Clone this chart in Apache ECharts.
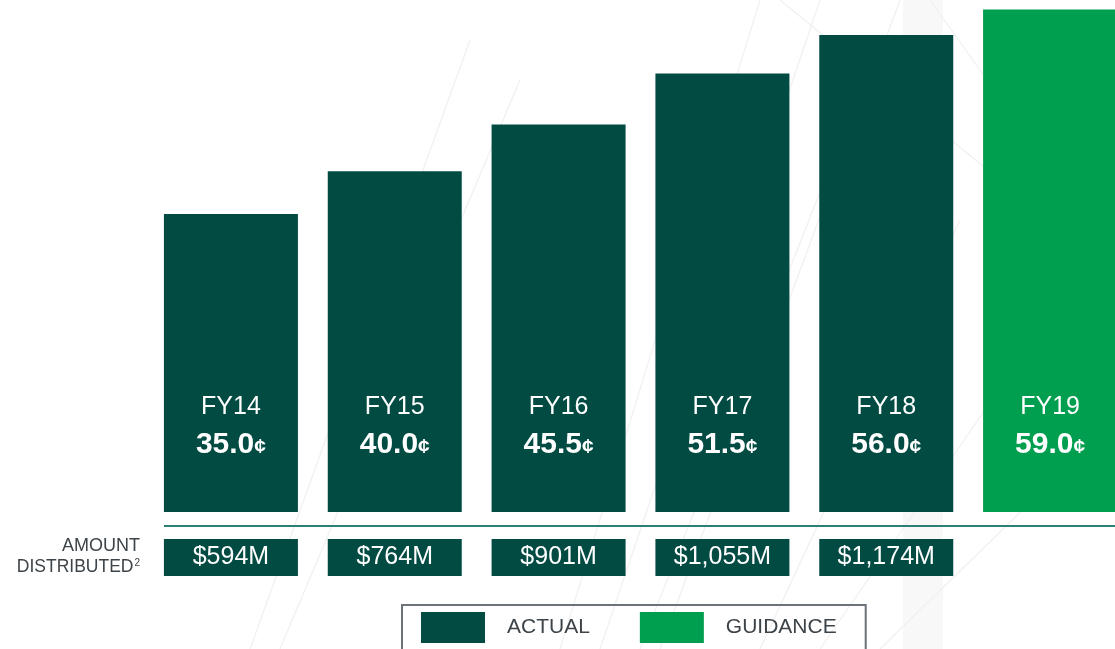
<!DOCTYPE html>
<html>
<head>
<meta charset="utf-8">
<script src="https://cdn.jsdelivr.net/npm/echarts@6/dist/echarts.min.js"></script>
<style>
  html, body { margin: 0; padding: 0; background: #fff; }
  #chart { width: 1115px; height: 649px; }
</style>
</head>
<body>
<div id="chart"></div>
<script>
// distribution per unit, cents
var years = ["FY14", "FY15", "FY16", "FY17", "FY18", "FY19"];
var actual = [35.0, 40.0, 45.5, 51.5, 56.0, "-"];
var guidance = ["-", "-", "-", "-", "-", 59.0];
var amounts = ["$594M", "$764M", "$901M", "$1,055M", "$1,174M", ""];

var dark = "#024b43";
var green = "#009e4f";
var font = "Liberation Sans, Arial, sans-serif";

var chart = echarts.init(document.getElementById("chart"));

// faint bridge cables in the background
var cables = [
  [250, 649, 470, 40], [280, 649, 520, 80], [560, 649, 760, 0], [600, 649, 820, 0],
  [640, 649, 880, 40], [760, 649, 960, 220], [820, 649, 1040, 330], [880, 649, 1115, 420],
  [930, 0, 1115, 260], [780, 0, 1000, 180], [660, 649, 900, 0]
];
var bg = cables.map(function (c) {
  return {
    type: "line", z: -10, silent: true,
    shape: { x1: c[0], y1: c[1], x2: c[2], y2: c[3] },
    style: { stroke: "#f0f0f0", lineWidth: 1.2 }
  };
});
bg.push({
  type: "rect", z: -11, silent: true,
  shape: { x: 903, y: 0, width: 40, height: 649 },
  style: { fill: "#f8f8f8" }
});

var labelRich = {
  fy: { color: "#fff", fontSize: 25, fontFamily: font, lineHeight: 36, align: "center" },
  v: { color: "#fff", fontSize: 30, fontWeight: "bold", fontFamily: font, lineHeight: 40 },
  c: { color: "#fff", fontSize: 21, fontWeight: "bold", fontFamily: font, lineHeight: 40, padding: [4, 0, 0, 0] }
};
function barLabel(p) {
  return "{fy|" + p.name + "}\n{v|" + Number(p.value).toFixed(1) + "}{c|¢}";
}

var option = {
  backgroundColor: "#fff",
  animation: false,
  grid: { left: 149, width: 983, top: 1, bottom: 137, outerBoundsMode: "none", containLabel: false },
  xAxis: {
    type: "category",
    data: years,
    axisLine: { show: false },
    axisTick: { show: false },
    axisLabel: {
      margin: 27,
      interval: 0,
      formatter: function (v, i) {
        return amounts[i] ? "{box|" + amounts[i] + "}" : "";
      },
      rich: {
        box: {
          backgroundColor: dark, color: "#fff", fontSize: 25, fontFamily: font,
          width: 134, height: 37, lineHeight: 37, align: "center"
        }
      }
    }
  },
  yAxis: {
    type: "value", min: 0, max: 60,
    show: false, splitLine: { show: false }
  },
  legend: {
    left: 402, top: 605,
    padding: [7, 29, 30, 19],
    borderColor: "#6b7279", borderWidth: 2,
    itemWidth: 64, itemHeight: 31, itemGap: 50,
    icon: "rect",
    textStyle: { color: "#3d4449", fontSize: 21, fontFamily: font, padding: [0, 0, 0, 17] },
    data: ["ACTUAL", "GUIDANCE"]
  },
  series: [
    {
      name: "ACTUAL", type: "bar", data: actual, barWidth: 134, barGap: "-100%",
      itemStyle: { color: dark },
      label: { show: true, position: "insideBottom", distance: 47, formatter: barLabel, rich: labelRich }
    },
    {
      name: "GUIDANCE", type: "bar", data: guidance, barWidth: 134,
      itemStyle: { color: green },
      label: { show: true, position: "insideBottom", distance: 47, formatter: barLabel, rich: labelRich }
    }
  ],
  graphic: bg.concat([
    {
      type: "line", silent: true,
      shape: { x1: 164, y1: 526, x2: 1115, y2: 526 },
      style: { stroke: "#2a7f77", lineWidth: 2 }
    },
    {
      type: "text", x: 140, y: 536, silent: true,
      style: {
        text: "{a|AMOUNT}\n{t|DISTRIBUTED}{s|2}",
        align: "right",
        fill: "#3d4449", fontSize: 18, fontFamily: font, lineHeight: 21,
        rich: {
          a: { fontSize: 18, fontFamily: font, fill: "#3d4449", lineHeight: 21 },
          t: { fontSize: 17.5, fontFamily: font, fill: "#3d4449", lineHeight: 21 },
          s: { fontSize: 10, fontFamily: font, fill: "#3d4449", padding: [0, 0, 8, 1] }
        }
      }
    }
  ])
};
chart.setOption(option);
</script>
</body>
</html>
